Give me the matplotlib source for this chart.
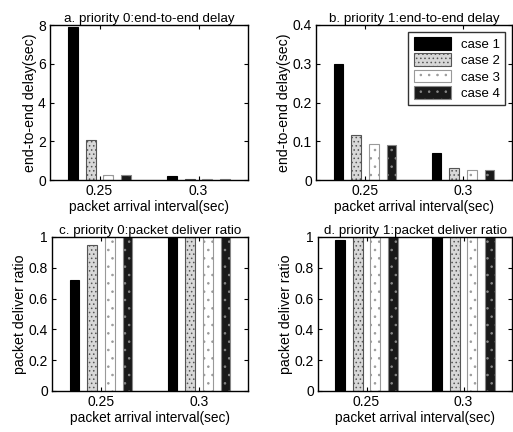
import matplotlib
matplotlib.use("Agg")
import matplotlib.pyplot as plt
import numpy as np

plt.rcParams['font.family'] = ['Liberation Sans', 'DejaVu Sans']
plt.rcParams['hatch.linewidth'] = 0.6

intervals = ["0.25", "0.3"]
cases = ["case 1", "case 2", "case 3", "case 4"]

# end-to-end delay (sec), rows = case, cols = interval
delay_p0 = [[7.9, 0.2], [2.05, 0.03], [0.25, 0.03], [0.25, 0.03]]
delay_p1 = [[0.30, 0.07], [0.115, 0.03], [0.093, 0.027], [0.09, 0.027]]

# packet deliver ratio
ratio_p0 = [[0.72, 1.0], [0.95, 1.0], [1.0, 1.0], [1.0, 1.0]]
ratio_p1 = [[0.98, 1.0], [1.0, 1.0], [1.0, 1.0], [1.0, 1.0]]

face = ["black", "#d8d8d8", "white", "#1a1a1a"]
hatch = [None, "....", "..", ".."]
hcol = ["black", "#555555", "#999999", "#888888"]


def draw(ax, data, title, ylabel, ymax, yticks, yticklabels, legend=False):
    x = np.arange(1, len(intervals) + 1)
    offsets = [-0.27, -0.09, 0.09, 0.27]
    for i in range(len(cases)):
        ax.bar(x + offsets[i], data[i], width=0.1, color=face[i],
               edgecolor=hcol[i], hatch=hatch[i], linewidth=0.8,
               label=cases[i])
    ax.set_xlim(0.5, 2.5)
    ax.set_ylim(0, ymax)
    ax.set_xticks(x)
    ax.set_xticklabels(intervals)
    ax.set_yticks(yticks)
    ax.set_yticklabels(yticklabels)
    ax.tick_params(direction="in", top=True, right=True, labelsize=10,
                   length=3, pad=3)
    ax.set_title(title, fontsize=9.6, pad=2)
    ax.set_xlabel("packet arrival interval(sec)", fontsize=9.8, labelpad=1)
    ax.set_ylabel(ylabel, fontsize=10.2, labelpad=1)
    for s in ax.spines.values():
        s.set_linewidth(1.0)
    if legend:
        ax.legend(loc="upper right", fontsize=9.5, frameon=True,
                  fancybox=False, edgecolor="black", handlelength=2.8,
                  handleheight=1.1, borderaxespad=0.5, labelspacing=0.2)


fig = plt.figure(figsize=(5.13, 4.32), dpi=100)
W, H = 513.0, 432.0
axa = fig.add_axes([50 / W, 1 - 180 / H, 198 / W, 155 / H])
axb = fig.add_axes([316 / W, 1 - 180 / H, 196 / W, 155 / H])
axc = fig.add_axes([52 / W, 1 - 391 / H, 196 / W, 154 / H])
axd = fig.add_axes([318 / W, 1 - 391 / H, 194 / W, 154 / H])

draw(axa, delay_p0, "a. priority 0:end-to-end delay", "end-to-end delay(sec)",
     8, [0, 2, 4, 6, 8], ["0", "2", "4", "6", "8"])
draw(axb, delay_p1, "b. priority 1:end-to-end delay", "end-to-end delay(sec)",
     0.4, [0, 0.1, 0.2, 0.3, 0.4], ["0", "0.1", "0.2", "0.3", "0.4"],
     legend=True)
draw(axc, ratio_p0, "c. priority 0:packet deliver ratio", "packet deliver ratio",
     1, [0, 0.2, 0.4, 0.6, 0.8, 1], ["0", "0.2", "0.4", "0.6", "0.8", "1"])
draw(axd, ratio_p1, "d. priority 1:packet deliver ratio", "packet deliver ratio",
     1, [0, 0.2, 0.4, 0.6, 0.8, 1], ["0", "0.2", "0.4", "0.6", "0.8", "1"])

fig.savefig("out.png", dpi=100)
